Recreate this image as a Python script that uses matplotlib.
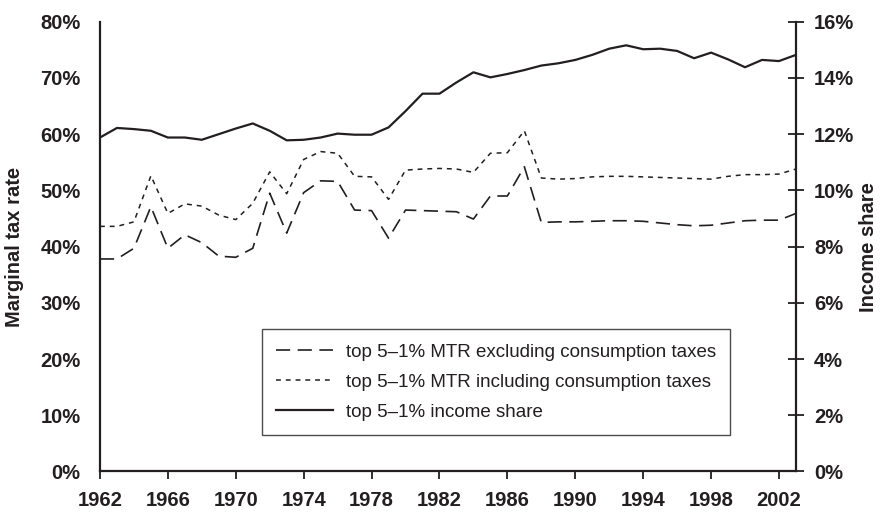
import matplotlib
matplotlib.use("Agg")
import matplotlib.pyplot as plt
from matplotlib.ticker import FuncFormatter

plt.rcParams['font.family'] = ['Liberation Sans', 'DejaVu Sans']

INK = '#231f20'

years = list(range(1962, 2004))

# top 5-1% marginal tax rate (%), left axis
mtr_excl = [37.8, 37.8, 39.7, 47.1, 39.7, 42.1, 40.7, 38.3, 38.1, 39.7,
            49.5, 42.4, 49.6, 51.7, 51.6, 46.5, 46.4, 41.5, 46.5, 46.4,
            46.3, 46.2, 44.9, 49.0, 49.0, 54.2, 44.3, 44.4, 44.4, 44.5,
            44.6, 44.6, 44.5, 44.2, 43.9, 43.7, 43.8, 44.2, 44.6, 44.7,
            44.7, 45.9]
mtr_incl = [43.6, 43.6, 44.4, 52.6, 45.9, 47.6, 47.2, 45.6, 44.8, 47.7,
            53.3, 49.4, 55.5, 56.9, 56.6, 52.5, 52.4, 48.4, 53.6, 53.8,
            53.9, 53.8, 53.2, 56.6, 56.7, 60.6, 52.2, 52.0, 52.1, 52.4,
            52.5, 52.5, 52.4, 52.3, 52.2, 52.1, 52.0, 52.5, 52.8, 52.8,
            52.9, 53.8]
# top 5-1% income share (%), right axis
income_share = [11.88, 12.22, 12.18, 12.12, 11.88, 11.88, 11.80, 12.00, 12.20, 12.38,
                12.12, 11.78, 11.80, 11.88, 12.02, 11.98, 11.98, 12.24, 12.82, 13.44,
                13.44, 13.84, 14.20, 14.02, 14.14, 14.28, 14.44, 14.52, 14.64, 14.82,
                15.04, 15.16, 15.02, 15.04, 14.96, 14.70, 14.90, 14.66, 14.38, 14.64,
                14.60, 14.82]

x_ticks = list(range(1962, 2003, 4))
left_ticks = list(range(0, 81, 10))
right_ticks = list(range(0, 17, 2))

FS = 14.5

fig = plt.figure(figsize=(8.8, 5.13), dpi=100)
ax = fig.add_axes([0.1136, 0.0809, 0.7909, 0.8768])
ax2 = ax.twinx()

l1, = ax.plot(years, mtr_excl, color=INK, lw=1.2, dashes=(8.5, 4.5),
              label='top 5\u20131% MTR excluding consumption taxes')
l2, = ax.plot(years, mtr_incl, color=INK, lw=1.1, dashes=(3.2, 3.2),
              label='top 5\u20131% MTR including consumption taxes')
l3, = ax2.plot(years, income_share, color=INK, lw=1.6,
               label='top 5\u20131% income share')

ax.set_xlim(1962, 2003)
ax.set_ylim(0, 80)
ax2.set_ylim(0, 16)

pct = FuncFormatter(lambda v, p: f"{v:.0f}%")
ax.set_yticks(left_ticks)
ax.yaxis.set_major_formatter(pct)
ax2.set_yticks(right_ticks)
ax2.yaxis.set_major_formatter(pct)
ax.set_xticks(x_ticks)

for a in (ax, ax2):
    a.spines['top'].set_visible(False)
    for s in a.spines.values():
        s.set_color(INK)
        s.set_linewidth(1.6)
ax.spines['right'].set_visible(False)
ax2.spines['left'].set_visible(False)
ax2.spines['bottom'].set_visible(False)

ax.tick_params(axis='y', length=0, pad=14, labelsize=FS, colors=INK)
ax.tick_params(axis='x', direction='out', length=6, width=1.3, pad=8,
               labelsize=FS, colors=INK)
ax2.tick_params(axis='y', direction='inout', length=12, width=1.3, pad=7,
                labelsize=FS, colors=INK)
for lab in ax.get_xticklabels() + ax.get_yticklabels() + ax2.get_yticklabels():
    lab.set_fontweight('bold')

ax.set_ylabel("Marginal tax rate", fontsize=FS, fontweight='bold', color=INK)
ax.yaxis.set_label_coords(-0.109, 0.5)
ax2.set_ylabel("Income share", fontsize=FS, fontweight='bold', color=INK)
ax2.yaxis.set_label_coords(1.091, 0.5)

leg = ax2.legend(handles=[l1, l2, l3], loc='lower right',
                 bbox_to_anchor=(0.905, 0.081), borderaxespad=0,
                 fontsize=13.5, handlelength=3.0, frameon=True, fancybox=False,
                 borderpad=0.75, labelspacing=0.7, handletextpad=0.7)
leg.get_frame().set_edgecolor(INK)
leg.get_frame().set_linewidth(1.0)
for t in leg.get_texts():
    t.set_color(INK)

fig.savefig("out.png", dpi=100)
